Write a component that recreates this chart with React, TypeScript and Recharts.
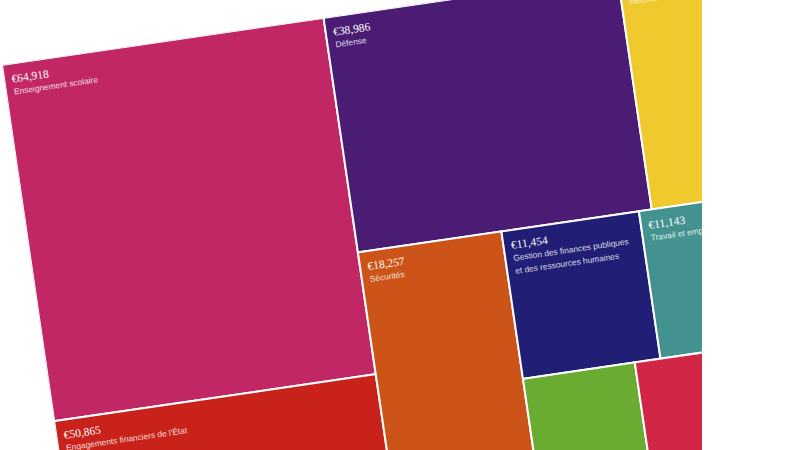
import { Treemap } from "recharts"

const names = [
  "Enseignement scolaire",
  "Engagements financiers de l'État",
  "Défense",
  "Recherche et enseignement supérieur",
  "Sécurités",
  "Solidarité, insertion et égalité des chances",
  "Gestion des finances publiques\net des ressources humaines",
  "Travail et emploi",
  "Écologie, développement et mobilité durables",
  "Cohésion des territoires",
  "Justice",
  "Anciens combattants",
  "Action extérieure de l'État",
  "Agriculture",
  "Économie",
  "Culture",
  "Immigration",
  "Sport",
  "Médias",
  "Santé",
]

const values = [
  64918, 50865, 38986, 30180, 18257, 14290, 11454, 11143, 8987, 8900, 7130,
  6800, 6000, 5000, 4800, 4100, 3500, 2900, 2700, 2084,
]

const colors = [
  "#c12765", "#c8221a", "#4a1c73", "#efc92e", "#cc5418", "#2f7ab5", "#201e75",
  "#44928f", "#7a4a9c", "#6aab32", "#b5651d", "#d22647", "#3a6ea5", "#8a9a2b",
  "#a03c78", "#2e8b57", "#c47a1e", "#5b5ea6", "#9b2335", "#4f7c8a",
]

const labelMin = 11000

const data = names.map((name, i) => ({ name, size: values[i] }))

function Cell(props: any) {
  const { x, y, width, height, index, depth, name, value } = props
  if (depth !== 1) return null
  const lines = value >= labelMin ? String(name).split("\n") : []
  return (
    <g>
      <rect
        x={x}
        y={y}
        width={width}
        height={height}
        fill={colors[index]}
        stroke="#fff"
        strokeWidth={2}
      />
      {value >= labelMin && (
        <text
          x={x + 7.5}
          y={y + 19}
          fill="#fff"
          stroke="none"
          fontFamily="'Liberation Serif', serif"
          fontSize={11.5}
        >
          {`€${value.toLocaleString("en-US")}`}
        </text>
      )}
      {lines.map((line, i) => (
        <text
          key={line}
          x={x + 8}
          y={y + 31 + i * 13}
          fill="#fff"
          fillOpacity={0.85}
          stroke="none"
          fontFamily="'Liberation Sans', Arial, sans-serif"
          fontSize={8.4}
        >
          {line}
        </text>
      ))}
    </g>
  )
}

export default function App() {
  return (
    <div
      style={{
        position: "absolute",
        left: 0,
        top: 0,
        width: 702,
        height: 450,
        overflow: "hidden",
        background: "#fff",
      }}
    >
      <div
        style={{
          position: "absolute",
          left: 1.5,
          top: 65,
          transform: "rotate(-8.33deg)",
          transformOrigin: "0 0",
        }}
      >
        <Treemap
          width={851}
          height={642}
          data={data}
          dataKey="size"
          nameKey="name"
          aspectRatio={1}
          stroke="#fff"
          isAnimationActive={false}
          content={<Cell />}
        />
      </div>
    </div>
  )
}
